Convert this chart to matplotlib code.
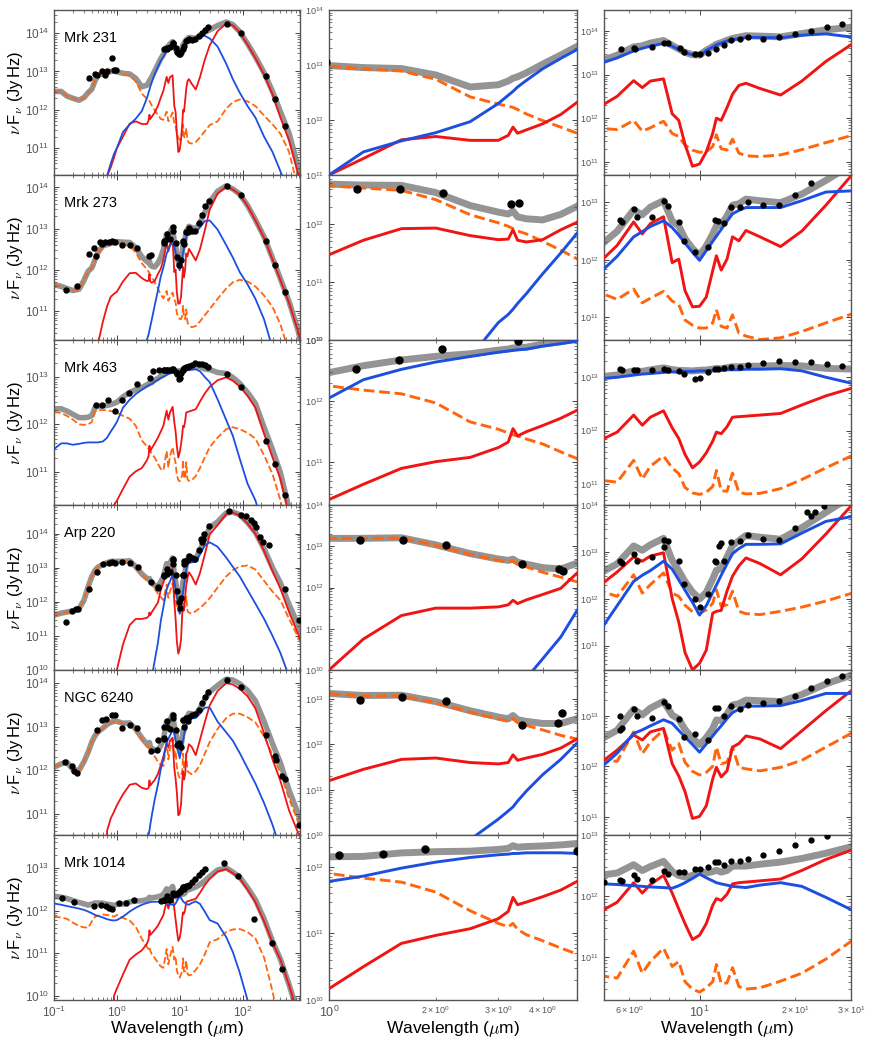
import numpy as np
import matplotlib
matplotlib.use('Agg')
import matplotlib.pyplot as plt

plt.rcParams['mathtext.fontset'] = 'cm'
plt.rcParams['font.family'] = ['Liberation Sans', 'DejaVu Sans']

# wavelength grid (micron) shared by all model components
wl = [0.1, 0.13, 0.16, 0.2, 0.25, 0.3, 0.35, 0.4, 0.45, 0.5, 0.6, 0.7, 0.8, 0.9,
      1.0, 1.25, 1.6, 2.0, 2.5, 3.0, 3.2, 3.3, 3.4, 3.6, 4.0, 4.5,
      5.0, 5.5, 6.2, 6.6, 7.0, 7.7, 8.2, 8.6, 9.0, 9.5, 10.0, 10.5, 11.0, 11.3, 11.7,
      12.2, 12.7, 13.3, 14.0, 15.5, 18.0, 21.0, 25.0,
      30, 40, 55, 70, 90, 120, 160, 220, 300, 400, 550, 750, 1000]

names = ['Mrk 231', 'Mrk 273', 'Mrk 463', 'Arp 220', 'NGC 6240', 'Mrk 1014']

# log10(nu F_nu / Jy Hz) : host (orange dashed), starburst (red), AGN (blue)
mrk231_host = [12.48, 12.48, 12.36, 12.30, 12.25, 12.32, 12.45, 12.54, 12.76, 12.90, 12.94, 12.96, 13.00, 13.00,
               12.98, 12.93, 12.89, 12.74, 12.42, 12.29, 12.25, 12.23, 12.19, 12.11, 11.99, 11.87,
               11.76, 11.74, 11.95, 11.70, 11.78, 11.93, 11.65, 11.58, 11.38, 11.27, 11.22, 11.23, 11.35, 11.62, 11.30,
               11.27, 11.52, 11.20, 11.14, 11.12, 11.16, 11.28, 11.44,
               11.60, 11.70, 12.03, 12.20, 12.27, 12.22, 12.10, 11.85, 11.62, 11.38, 10.90, 10.00, 9.00]
mrk231_sb = [8, 8, 8, 8, 8, 8, 8, 8, 8, 8, 8, 10.28, 10.50, 10.75,
             11.00, 11.30, 11.64, 11.70, 11.63, 11.63, 11.72, 11.87, 11.76, 11.82, 11.93, 12.10,
             12.32, 12.50, 12.86, 12.70, 12.85, 12.90, 12.10, 11.95, 11.40, 10.90, 10.95, 11.23, 11.65, 12.00, 11.95,
             12.24, 12.55, 12.75, 12.80, 12.68, 12.53, 12.85, 13.30,
             13.68, 14.05, 14.25, 14.20, 14.02, 13.70, 13.35, 12.92, 12.40, 11.80, 11.20, 10.40, 9.50]
mrk231_agn = [8, 8, 8, 8, 8, 8, 8, 8, 8, 8, 8, 10.28, 10.60, 10.85,
              11.00, 11.42, 11.62, 11.77, 11.97, 12.30, 12.45, 12.52, 12.60, 12.72, 12.93, 13.12,
              13.28, 13.38, 13.54, 13.60, 13.65, 13.71, 13.65, 13.57, 13.50, 13.45, 13.44, 13.55, 13.63, 13.68, 13.72,
              13.77, 13.80, 13.82, 13.85, 13.85, 13.84, 13.90, 13.93,
              13.86, 13.65, 13.20, 12.80, 12.45, 12.10, 11.80, 11.30, 10.90, 10.40, 9.80, 9.00, 8.00]
mrk231_obs_wl = [0.36, 0.45, 0.49, 0.58, 0.64, 0.70, 0.84, 0.89, 0.98,
                 5.66, 6.2, 6.28, 7.08, 7.74, 7.93, 8.65, 8.95, 9.69, 10.05, 10.6, 11.3, 11.9, 12.6,
                 13.4, 14.2, 15.9, 17.8, 20.0, 22.4, 25.2, 28.2, 56, 94, 236, 330, 470]
mrk231_obs_f = [12.82, 12.94, 12.90, 13.00, 12.92, 13.00, 13.36, 13.03, 13.05,
                13.58, 13.61, 13.59, 13.64, 13.73, 13.73, 13.61, 13.51, 13.46, 13.46, 13.50, 13.59, 13.67, 13.80,
                13.82, 13.85, 13.82, 13.85, 13.92, 13.99, 14.08, 14.15, 14.25, 14.00, 12.87, 12.27, 11.58]

mrk273_host = [11.64, 11.60, 11.55, 11.50, 11.53, 11.75, 11.97, 12.05, 12.25, 12.42, 12.58, 12.60, 12.62, 12.63,
               12.66, 12.62, 12.58, 12.42, 12.16, 12.02, 11.96, 11.92, 11.88, 11.83, 11.70, 11.55,
               11.40, 11.31, 11.49, 11.25, 11.33, 11.45, 11.28, 11.22, 10.95, 10.86, 10.81, 10.81, 10.90, 11.13, 10.84,
               10.81, 11.04, 10.72, 10.67, 10.61, 10.64, 10.75, 10.90,
               11.05, 11.30, 11.55, 11.70, 11.76, 11.72, 11.60, 11.38, 11.10, 10.68, 10.00, 9.30, 8.50]
mrk273_sb = [8, 8, 8, 8, 8, 8, 8, 8, 8, 10.20, 10.75, 11.12, 11.35, 11.42,
             11.47, 11.72, 11.92, 11.93, 11.80, 11.73, 11.74, 11.90, 11.72, 11.69, 11.73, 11.90,
             12.03, 12.25, 12.66, 12.45, 12.63, 12.75, 11.95, 12.01, 11.46, 11.18, 11.19, 11.35, 11.81, 12.07, 11.82,
             12.01, 12.40, 12.33, 12.51, 12.40, 12.23, 12.50, 12.95,
             13.46, 13.85, 14.02, 13.95, 13.83, 13.55, 13.20, 12.78, 12.25, 11.75, 11.20, 10.55, 9.80]
mrk273_agn = [8, 8, 8, 8, 8, 8, 8, 8, 8, 8, 8, 8, 8, 8,
              8, 8, 8, 8, 9.70, 10.30, 10.44, 10.53, 10.63, 10.80, 11.14, 11.50,
              11.84, 12.06, 12.40, 12.49, 12.58, 12.68, 12.56, 12.43, 12.29, 12.13, 11.99, 12.16, 12.32, 12.41, 12.53,
              12.67, 12.80, 12.86, 12.91, 12.91, 12.91, 13.03, 13.18,
              13.20, 12.98, 12.60, 12.30, 11.95, 11.65, 11.30, 10.80, 10.10, 9.50, 8.80, 8.20, 8.00]
mrk273_obs_wl = [0.153, 0.23, 0.36, 0.44, 0.46, 0.53, 0.58, 0.65, 0.74, 0.85, 0.95,
                 1.2, 1.59, 2.1, 3.26, 3.44,
                 5.6, 5.7, 6.2, 6.33, 7.08, 7.7, 7.93, 8.63, 8.95, 9.69, 10.6, 11.2, 11.4, 11.9, 12.6,
                 13.4, 14.2, 15.9, 17.8, 20.0, 22.4, 25, 29, 56, 94, 236, 330, 470]
mrk273_obs_f = [11.52, 11.62, 12.39, 12.53, 12.33, 12.68, 12.62, 12.67, 12.67, 12.69, 12.67,
                12.60, 12.61, 12.53, 12.34, 12.37,
                12.70, 12.66, 12.88, 12.74, 12.74, 13.03, 12.94, 12.66, 12.32, 12.13, 12.23, 12.69, 12.68, 12.64, 12.92,
                12.92, 13.01, 12.95, 12.95, 13.13, 13.33, 13.55, 13.68, 14.03, 13.81, 12.69, 12.11, 11.47]

mrk463_host = [12.26, 12.24, 12.18, 12.10, 12.00, 11.99, 12.00, 12.05, 12.27, 12.30, 12.30, 12.30, 12.28, 12.27,
               12.25, 12.18, 12.12, 11.97, 11.66, 11.54, 11.48, 11.45, 11.43, 11.38, 11.30, 11.17,
               11.06, 11.03, 11.44, 11.09, 11.33, 11.52, 11.30, 11.19, 10.93, 10.83, 10.80, 10.84, 10.95, 11.25, 10.87,
               10.86, 11.20, 10.84, 10.81, 10.82, 10.91, 11.08, 11.30,
               11.52, 11.72, 11.90, 11.94, 11.90, 11.82, 11.70, 11.35, 10.95, 10.40, 9.60, 8.80, 8.00]
mrk463_sb = [8, 8, 8, 8, 8, 8, 8, 8, 8, 8, 8, 8, 8, 10.30,
             10.39, 10.64, 10.90, 11.01, 11.08, 11.24, 11.33, 11.55, 11.43, 11.50, 11.60, 11.72,
             11.85, 11.97, 12.29, 12.10, 12.25, 12.37, 12.05, 11.85, 11.55, 11.30, 11.41, 11.58, 11.80, 11.97, 11.94,
             12.07, 12.25, 12.26, 12.27, 12.29, 12.32, 12.48, 12.65,
             12.79, 12.93, 12.99, 12.92, 12.80, 12.60, 12.35, 11.80, 11.30, 10.85, 10.10, 9.40, 8.60]
mrk463_agn = [11.48, 11.60, 11.60, 11.57, 11.59, 11.61, 11.62, 11.62, 11.62, 11.62, 11.64, 11.72, 11.85, 11.95,
              12.05, 12.35, 12.52, 12.64, 12.73, 12.80, 12.82, 12.83, 12.84, 12.85, 12.90, 12.94,
              12.98, 13.00, 13.04, 13.06, 13.07, 13.09, 13.10, 13.10, 13.11, 13.11, 13.12, 13.12, 13.13, 13.13, 13.13,
              13.14, 13.14, 13.14, 13.15, 13.15, 13.16, 13.12, 13.00,
              12.89, 12.53, 12.09, 11.76, 11.28, 10.75, 10.40, 9.80, 9.20, 8.60, 8.00, 8.00, 8.00]
mrk463_obs_wl = [0.46, 0.58, 0.73, 0.95, 1.19, 1.57, 2.08, 3.42, 3.8, 4.6,
                 5.6, 5.7, 6.2, 6.33, 7.08, 7.7, 7.93, 8.63, 8.95, 9.69, 10.05, 10.6, 11.2, 11.4, 11.9, 12.6,
                 13.4, 14.2, 15.9, 17.8, 20.0, 22.4, 25.2, 28.2, 56, 94, 236, 330, 470]
mrk463_obs_f = [12.40, 12.40, 12.52, 12.29, 12.52, 12.67, 12.86, 12.98, 13.13, 13.14,
                13.15, 13.14, 13.14, 13.14, 13.14, 13.16, 13.14, 13.11, 13.06, 12.96, 12.98, 13.09, 13.15, 13.15, 13.18, 13.20,
                13.20, 13.23, 13.26, 13.30, 13.28, 13.28, 13.25, 13.21, 13.06, 12.79, 11.64, 11.16, 10.52]

arp220_host = [11.61, 11.67, 11.70, 11.74, 11.80, 12.05, 12.45, 12.75, 12.93, 13.02, 13.10, 13.15, 13.19, 13.19,
               13.19, 13.19, 13.20, 13.02, 12.80, 12.66, 12.62, 12.64, 12.57, 12.50, 12.37, 12.25,
               12.14, 12.05, 12.51, 12.12, 12.30, 12.55, 12.12, 12.05, 11.86, 11.72, 11.69, 11.76, 11.90, 12.19, 11.84,
               11.87, 12.16, 11.73, 11.68, 11.66, 11.73, 11.82, 11.95,
               12.11, 12.42, 12.75, 12.93, 13.04, 13.07, 12.95, 12.62, 12.30, 12.05, 11.50, 11.00, 10.50]
arp220_sb = [8, 8, 8, 8, 8, 8, 8, 8, 8, 8, 8, 8, 8, 8,
             10.00, 10.75, 11.32, 11.50, 11.50, 11.53, 11.58, 11.69, 11.61, 11.70, 11.83, 11.98,
             12.35, 12.57, 12.89, 12.80, 12.91, 12.98, 12.00, 11.50, 10.85, 10.48, 10.62, 10.90, 11.69, 11.73, 11.75,
             12.16, 12.48, 12.70, 12.87, 12.75, 12.51, 12.85, 13.38,
             13.98, 14.25, 14.58, 14.62, 14.54, 14.30, 14.00, 13.50, 12.90, 12.39, 11.70, 11.10, 10.50]
arp220_agn = [8, 8, 8, 8, 8, 8, 8, 8, 8, 8, 8, 8, 8, 8,
              8, 8, 8, 8, 8, 8.95, 9.28, 9.43, 9.55, 9.80, 10.27, 10.80,
              11.44, 11.85, 12.37, 12.50, 12.60, 12.80, 12.63, 12.40, 12.18, 11.92, 11.65, 11.85, 12.13, 12.29, 12.50,
              12.74, 12.96, 13.07, 13.16, 13.16, 13.17, 13.40, 13.65,
              13.75, 13.62, 13.30, 13.03, 12.75, 12.35, 11.95, 11.50, 11.00, 10.50, 9.80, 9.00, 8.00]
arp220_obs_wl = [0.153, 0.19, 0.22, 0.24, 0.36, 0.48, 0.6, 0.75, 0.85, 0.95,
                 1.22, 1.62, 2.14, 3.51, 4.44, 4.57,
                 5.6, 5.7, 6.2, 6.33, 7.08, 7.7, 7.74, 7.93, 8.63, 8.95, 9.69, 10.0, 10.6, 11.2, 11.3, 11.5, 11.7, 11.9,
                 12.6, 13.4, 14.2, 15.9, 17.8, 20.0, 21.8, 22.4, 23.1, 24.6, 29,
                 60, 94, 114, 136, 153, 165, 191, 215, 262, 475, 803]
arp220_obs_f = [11.41, 11.73, 11.78, 11.80, 12.39, 12.88, 13.12, 13.15, 13.17, 13.15,
                13.16, 13.14, 13.02, 12.58, 12.45, 12.40,
                12.80, 12.76, 12.96, 12.81, 12.89, 13.25, 13.10, 13.23, 12.80, 12.32, 11.99, 11.82, 12.10, 12.80, 12.78, 13.12, 13.19, 12.80,
                13.21, 13.24, 13.36, 13.28, 13.25, 13.51, 13.84, 13.76, 13.86, 13.98, 14.24,
                14.68, 14.54, 14.51, 14.39, 14.31, 14.20, 13.92, 13.76, 13.66, 12.39, 11.48]

ngc6240_host = [12.07, 12.15, 12.19, 12.02, 12.00, 12.20, 12.42, 12.65, 12.80, 12.88, 12.97, 13.05, 13.10, 13.12,
                13.12, 13.07, 13.07, 12.92, 12.71, 12.56, 12.51, 12.57, 12.48, 12.42, 12.32, 12.20,
                12.12, 12.10, 12.68, 12.25, 12.48, 12.72, 12.32, 12.45, 12.08, 11.90, 11.83, 11.88, 12.00, 12.38, 12.05,
                12.08, 12.38, 11.98, 11.95, 11.91, 11.98, 12.12, 12.38,
                12.65, 12.95, 13.20, 13.30, 13.30, 13.22, 13.10, 12.78, 12.35, 11.95, 11.35, 10.85, 10.30]
ngc6240_sb = [8, 8, 8, 8, 8, 8, 8, 8, 8, 8, 8, 10.62, 10.90, 11.05,
              11.20, 11.45, 11.67, 11.70, 11.60, 11.57, 11.60, 11.77, 11.65, 11.70, 11.78, 11.92,
              12.12, 12.32, 12.62, 12.52, 12.68, 12.75, 12.05, 11.81, 11.50, 10.97, 11.01, 11.22, 11.75, 11.98, 11.79,
              11.91, 12.38, 12.45, 12.60, 12.54, 12.35, 12.70, 13.10,
              13.49, 13.82, 14.00, 13.97, 13.87, 13.70, 13.42, 12.85, 12.25, 11.76, 11.08, 10.60, 10.00]
ngc6240_agn = [8, 8, 8, 8, 8, 8, 8, 8, 8, 8, 8, 8, 8, 8,
               8, 8, 8, 8, 9.90, 10.35, 10.53, 10.62, 10.75, 10.97, 11.33, 11.67,
               12.03, 12.26, 12.65, 12.72, 12.80, 12.92, 12.85, 12.71, 12.58, 12.43, 12.28, 12.44, 12.60, 12.69, 12.80,
               12.94, 13.06, 13.13, 13.19, 13.19, 13.20, 13.30, 13.44,
               13.44, 13.12, 12.87, 12.68, 12.40, 12.05, 11.70, 11.25, 10.75, 10.20, 9.50, 8.80, 8.00]
ngc6240_obs_wl = [0.15, 0.19, 0.21, 0.23, 0.49, 0.58, 0.68, 0.84, 0.95,
                  1.22, 1.61, 2.13, 3.5, 4.42, 4.54,
                  5.6, 5.62, 5.7, 6.2, 6.33, 7.08, 7.7, 7.93, 8.63, 8.95, 9.69, 10.6, 11.2, 11.4, 11.9, 12.6,
                  13.4, 14.2, 15.9, 17.8, 20.0, 22.4, 25.2, 28.2, 56, 94, 236, 330, 340, 420, 470, 800]
ngc6240_obs_f = [12.19, 12.11, 11.98, 11.95, 12.93, 13.16, 13.18, 13.28, 13.27,
                 12.98, 13.04, 12.96, 12.44, 12.47, 12.70,
                 12.99, 12.72, 12.75, 13.13, 12.99, 12.95, 13.27, 13.19, 12.93, 12.58, 12.63, 12.53, 13.15, 13.15, 12.99, 13.20,
                 13.13, 13.22, 13.26, 13.30, 13.39, 13.54, 13.68, 13.79, 14.08, 13.92, 12.81, 12.34, 12.24, 11.87, 11.81, 10.74]

mrk1014_host = [11.86, 11.84, 11.81, 11.72, 11.64, 11.61, 11.60, 11.75, 11.86, 11.88, 11.91, 11.90, 11.89, 11.86,
                11.90, 11.83, 11.77, 11.62, 11.34, 11.15, 11.10, 11.15, 11.06, 10.98, 10.89, 10.78,
                10.69, 10.66, 11.10, 10.74, 10.93, 11.15, 10.85, 10.93, 10.60, 10.48, 10.43, 10.50, 10.60, 10.88, 10.57,
                10.58, 10.83, 10.52, 10.48, 10.50, 10.61, 10.74, 10.97,
                11.26, 11.33, 11.50, 11.56, 11.57, 11.50, 11.35, 10.90, 10.10, 9.20, 8.50, 8.00, 8.00]
mrk1014_sb = [8, 8, 8, 8, 8, 8, 8, 8, 8, 8, 8, 8, 8, 10.00,
              10.17, 10.50, 10.85, 10.97, 11.07, 11.22, 11.33, 11.54, 11.43, 11.47, 11.55, 11.65,
              11.78, 11.90, 12.22, 12.05, 12.19, 12.34, 12.05, 11.79, 11.55, 11.29, 11.36, 11.55, 11.85, 11.96, 11.93,
              12.03, 12.20, 12.22, 12.23, 12.25, 12.28, 12.42, 12.60,
              12.75, 12.92, 12.98, 12.88, 12.76, 12.50, 12.20, 11.75, 11.25, 10.85, 10.25, 9.60, 9.00]
mrk1014_agn = [12.17, 12.14, 12.11, 12.08, 12.05, 12.02, 11.98, 11.94, 11.90, 11.88, 11.84, 11.80, 11.78, 11.77,
               11.78, 11.86, 11.98, 12.07, 12.14, 12.18, 12.19, 12.20, 12.20, 12.21, 12.21, 12.21,
               12.20, 12.19, 12.17, 12.16, 12.15, 12.14, 12.13, 12.17, 12.22, 12.29, 12.36, 12.30, 12.25, 12.22, 12.20,
               12.18, 12.16, 12.15, 12.14, 12.18, 12.22, 12.16, 11.98,
               11.78, 11.70, 11.38, 11.03, 10.55, 9.90, 9.20, 8.50, 8.00, 8.00, 8.00, 8.00, 8.00]
mrk1014_obs_wl = [0.136, 0.21, 0.43, 0.55, 0.66, 0.76, 0.84, 1.07, 1.42, 1.87,
                  5.0, 5.6, 5.7, 6.2, 6.33, 7.08, 7.7, 7.93, 8.63, 8.95, 9.69, 10.05, 10.6, 11.2, 11.4, 11.9,
                  12.6, 13.4, 14.2, 15.9, 17.8, 20.0, 22.4, 25.2, 51, 85, 150, 290, 420]
mrk1014_obs_f = [12.31, 12.20, 12.11, 12.13, 12.11, 12.07, 12.05, 12.18, 12.19, 12.26,
                 12.23, 12.26, 12.25, 12.34, 12.28, 12.26, 12.41, 12.37, 12.39, 12.39, 12.45, 12.45, 12.48, 12.56, 12.56, 12.51,
                 12.57, 12.57, 12.60, 12.68, 12.74, 12.84, 12.92, 12.98, 13.13, 12.82, 11.80, 11.24, 10.63]

galaxies = [
    (mrk231_host, mrk231_sb, mrk231_agn, mrk231_obs_wl, mrk231_obs_f),
    (mrk273_host, mrk273_sb, mrk273_agn, mrk273_obs_wl, mrk273_obs_f),
    (mrk463_host, mrk463_sb, mrk463_agn, mrk463_obs_wl, mrk463_obs_f),
    (arp220_host, arp220_sb, arp220_agn, arp220_obs_wl, arp220_obs_f),
    (ngc6240_host, ngc6240_sb, ngc6240_agn, ngc6240_obs_wl, ngc6240_obs_f),
    (mrk1014_host, mrk1014_sb, mrk1014_agn, mrk1014_obs_wl, mrk1014_obs_f),
]

# y limits (left, middle, right) per row
ylims = [
    [(2e10, 4e14), (1e11, 1e14), (5e10, 3e14)],
    [(2e10, 2e14), (1e10, 7e12), (4e10, 3e13)],
    [(2e10, 6e13), (2e10, 1e13), (4e10, 5e13)],
    [(1e10, 7e14), (1e10, 1e14), (3e10, 1e14)],
    [(3.3e10, 2e14), (1e10, 4.4e13), (4.4e10, 8e13)],
    [(8e9, 6e13), (1e10, 3e12), (2e10, 1e13)],
]
xlims = [(0.1, 820), (1, 5), (5, 30)]

GRAY = '#949494'
BLUE = '#1c4fe0'
RED = '#f01414'
ORANGE = '#ff650c'
TICKC = '#555555'

W, H = 872, 1045
fig = plt.figure(figsize=(W / 100, H / 100), dpi=100)

col_x = [54, 329, 604]
col_w = [246, 248, 247]
row_h = 165
top0 = 10

lam = np.array(wl)
for i, g in enumerate(galaxies):
    host = 10 ** np.array(g[0])
    sb = 10 ** np.array(g[1])
    agn = 10 ** np.array(g[2])
    tot = host + sb + agn
    owl = np.array(g[3])
    of = 10 ** np.array(g[4])
    top = top0 + row_h * i
    for j in range(3):
        ax = fig.add_axes([col_x[j] / W, (H - top - row_h) / H, col_w[j] / W, row_h / H])
        ax.set_xscale('log')
        ax.set_yscale('log')
        if j == 0:
            lw, lwt, ms = 1.3, 4.0, 3.6
        elif j == 1:
            lw, lwt, ms = 2.1, 5.0, 5.0
        else:
            lw, lwt, ms = 2.1, 5.0, 3.5
        ax.plot(lam, tot, color=GRAY, lw=lwt, solid_capstyle='round', zorder=1)
        ax.plot(lam, host, color=ORANGE, lw=lw, ls='--', zorder=2)
        ax.plot(lam, sb, color=RED, lw=lw, zorder=3)
        ax.plot(lam, agn, color=BLUE, lw=lw, zorder=4)
        ax.plot(owl, of, 'o', color='black', ms=ms, zorder=5)
        ax.set_xlim(*xlims[j])
        ax.set_ylim(*ylims[i][j])
        ax.tick_params(which='both', direction='in', top=True, right=True,
                       color='#444444', labelcolor=TICKC)
        ax.tick_params(which='major', length=3.5, width=0.7)
        ax.tick_params(which='minor', length=2, width=0.5)
        if j == 0:
            ax.tick_params(axis='both', which='both', labelsize=8.5)
        else:
            ax.tick_params(axis='y', which='both', labelsize=6.5)
            ax.tick_params(axis='x', which='major', labelsize=9)
            ax.tick_params(axis='x', which='minor', labelsize=6.5)
        if i < 5:
            ax.tick_params(axis='x', which='both', labelbottom=False)
        for s in ax.spines.values():
            s.set_color('#555555')
            s.set_linewidth(1.0)
        if j == 0:
            ax.text(0.04, 0.83, names[i], transform=ax.transAxes, fontsize=10.5,
                    ha='left', va='center')
    fig.text(15.5 / W, (H - top - row_h / 2) / H, r'$\nu\,$F$_\nu$ (Jy$\,$Hz)',
             rotation=90, ha='center', va='center', fontsize=12)

for j in range(3):
    fig.text((col_x[j] + col_w[j] / 2) / W, (H - 1029) / H, r'Wavelength ($\mu$m)',
             ha='center', va='center', fontsize=12.5)

fig.savefig('out.png', dpi=100)
